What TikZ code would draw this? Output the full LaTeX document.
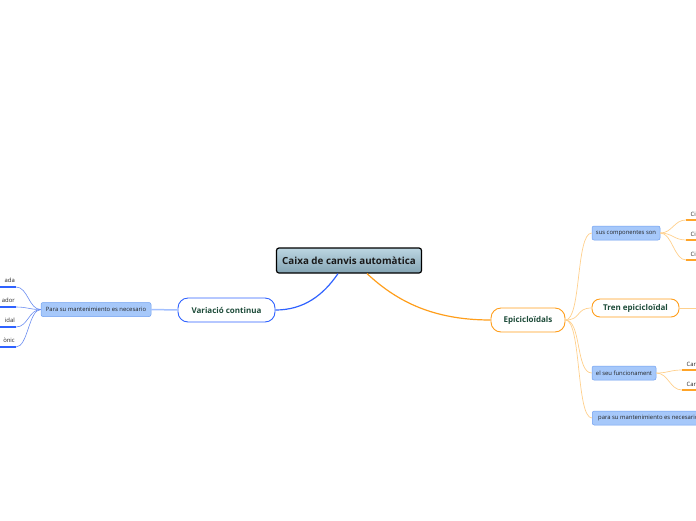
\documentclass[tikz,border=0pt]{standalone}
\usepackage{fontspec}
\setmainfont{Open Sans}
\usepackage{xcolor}
\usetikzlibrary{positioning}

\definecolor{rootTop}{HTML}{BCD6E2}
\definecolor{rootBot}{HTML}{84A4B3}
\definecolor{topicText}{HTML}{1D4B39}
\definecolor{blueMain}{HTML}{2F62FF}
\definecolor{blueSoft}{HTML}{A3C0FF}
\definecolor{blueThin}{HTML}{6A8CF0}
\definecolor{subFill}{HTML}{A6C8FA}
\definecolor{subLine}{HTML}{6E9EF0}
\definecolor{orangeMain}{HTML}{FF9E1B}
\definecolor{orangeSoft}{HTML}{FFD08C}
\definecolor{orangeLeaf}{HTML}{FFA428}

\newcommand\rootfont{\fontsize{9.8}{11}\selectfont\bfseries}
\newcommand\topicfont{\fontsize{8}{9}\selectfont\bfseries}
\newcommand\subfont{\fontsize{5.9}{7}\selectfont}

\begin{document}
\begin{tikzpicture}[x=1pt, y=-1pt,
    rootbox/.style={draw=black, line width=1.2pt, rounded corners=2.5pt,
      top color=rootTop, bottom color=rootBot, text=black!90,
      font=\rootfont, minimum width=145, minimum height=25, inner sep=0pt},
    topic/.style={draw, line width=0.9pt, rounded corners=10pt, fill=white,
      text=topicText, font=\topicfont, minimum height=24, inner sep=0pt},
    subbox/.style={draw=subLine, line width=0.5pt, fill=subFill, rounded corners=2pt,
      text=black!85, font=\subfont, minimum height=14, inner sep=0pt},
    leafL/.style={anchor=south east, align=right, text width=24pt, inner xsep=1pt,
      inner ysep=4pt, font=\subfont, text=black!85},
    leafR/.style={anchor=south west, align=left, text width=24pt, inner xsep=4.5pt,
      inner ysep=3pt, font=\subfont, text=black!85}]
    \useasboundingbox (0,0) rectangle (696,520);
    \clip (0,0) rectangle (696,520);

    % centre
    \node[rootbox] (root) at (349,260.5) {Caixa de canvis automàtica};

    % branca esquerra
    \node[topic, draw=blueMain, minimum width=97] (var) at (226.5,310) {Variació continua};
    \node[subbox, minimum width=110] (mant) at (96,309.5) {Para su mantenimiento es necesario};
    \node[leafL] (l1) at (16,287) {ada};
    \node[leafL] (l2) at (16,307) {ador};
    \node[leafL] (l3) at (16,327) {idal};
    \node[leafL] (l4) at (16,347) {ònic};

    % branca dreta
    \node[topic, draw=orangeMain, minimum width=74] (epi) at (528,320) {Epicicloïdals};
    \node[subbox, minimum width=68] (comp) at (626,233) {sus componentes son};
    \node[topic, draw=orangeMain, minimum width=87, minimum height=18, rounded corners=8pt]
      (tren) at (635.5,308) {Tren epicicloïdal};
    \node[subbox, minimum width=64] (func) at (624,373) {el seu funcionament};
    \node[subbox, minimum width=112, anchor=west] (mant2) at (592,418) {para su mantenimiento es necesario};
    \node[leafR] (c1) at (686,220) {Ci};
    \node[leafR] (c2) at (686,240) {Ci};
    \node[leafR] (c3) at (686,260) {Ci};
    \node[leafR] (f1) at (682,370) {Car};
    \node[leafR] (f2) at (682,390) {Car};
    \coordinate (trenEnd) at (700,308);

    % connectors
    \draw[blueMain, line width=1.2pt] ([xshift=-11]root.south) .. controls +(-15,22) and +(28,0) .. (var.east);
    \draw[blueSoft, line width=1.5pt] (var.west) -- (mant.east);
    \foreach \n in {l1,l2,l3,l4} {
      \draw[blueThin, line width=0.6pt] (mant.west) .. controls +(-12,0) and +(12,0) .. (\n.south east);
      \draw[blueMain, line width=1.5pt] (\n.south west) -- (\n.south east);
    }

    \draw[orangeMain, line width=1.2pt] ([xshift=18]root.south) .. controls +(28,26) and +(-60,0) .. (epi.west);
    \foreach \n in {comp,tren,func,mant2}
      \draw[orangeSoft, line width=0.7pt] (epi.east) .. controls +(16,0) and +(-16,0) .. (\n.west);
    \foreach \n in {c1,c2,c3} {
      \draw[orangeSoft, line width=0.7pt] (comp.east) .. controls +(12,0) and +(-12,0) .. (\n.south west);
      \draw[orangeLeaf, line width=1.5pt] (\n.south west) -- (\n.south east);
    }
    \foreach \n in {f1,f2} {
      \draw[orangeSoft, line width=0.7pt] (func.east) .. controls +(12,0) and +(-12,0) .. (\n.south west);
      \draw[orangeLeaf, line width=1.5pt] (\n.south west) -- (\n.south east);
    }
    \draw[orangeSoft, line width=0.8pt] (tren.east) -- (trenEnd);
\end{tikzpicture}
\end{document}
